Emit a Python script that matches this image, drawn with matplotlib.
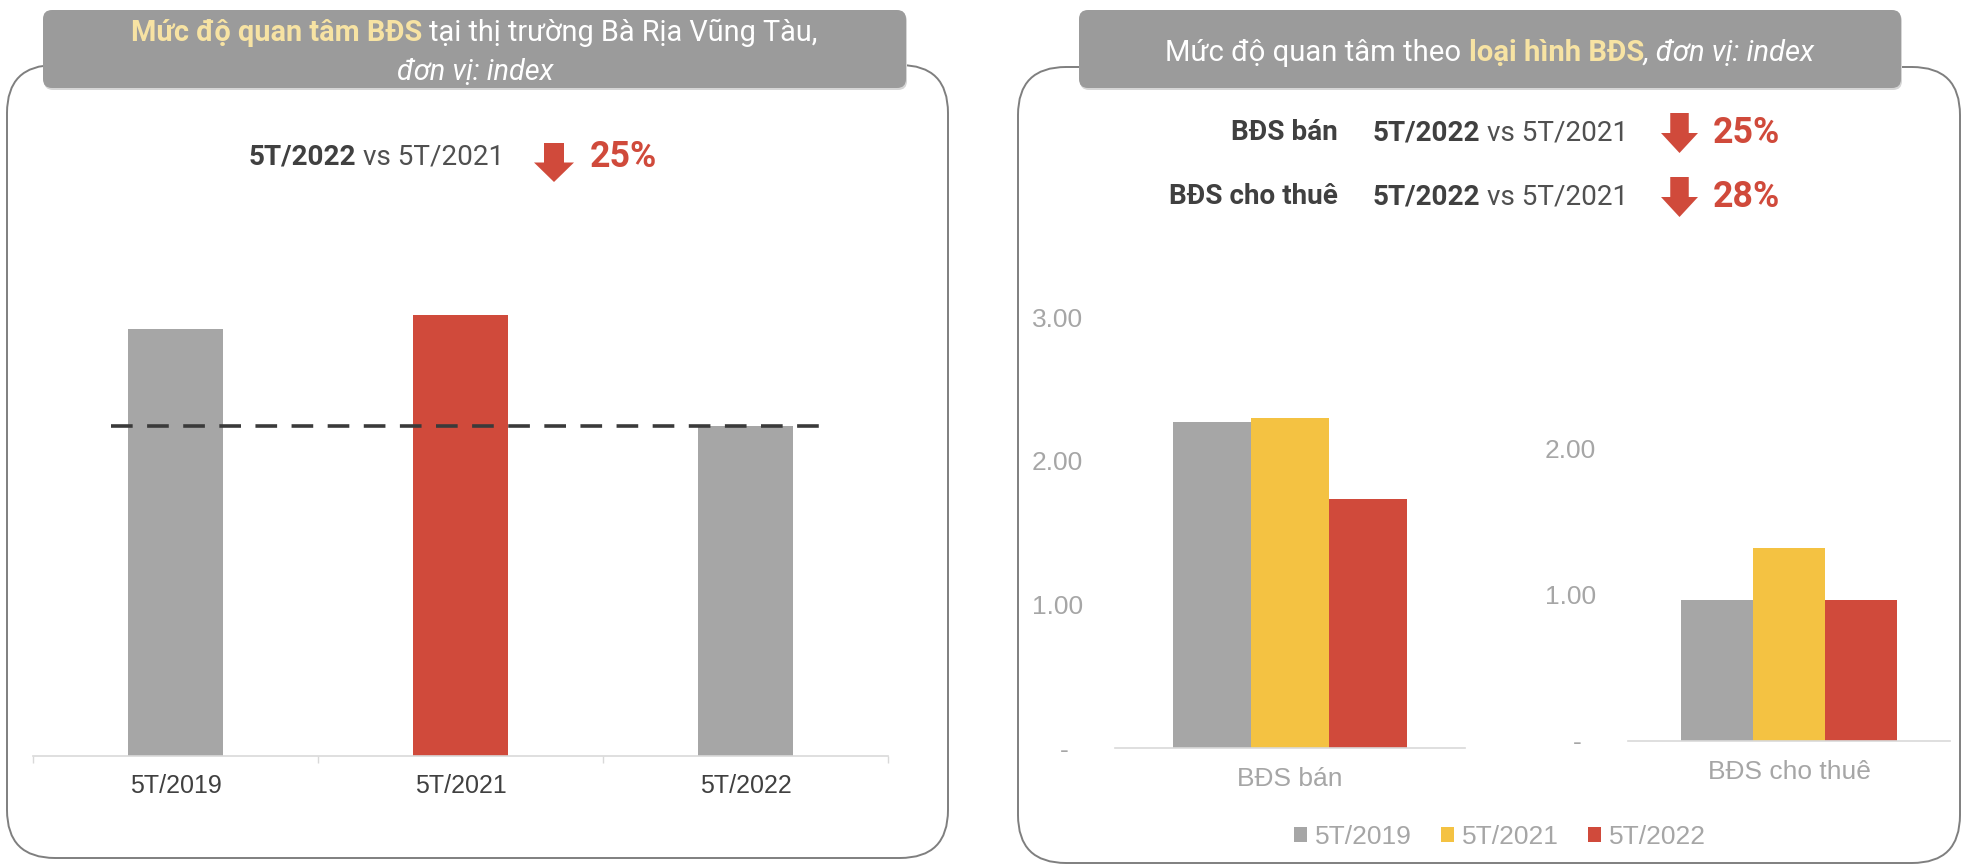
import matplotlib
matplotlib.use("Agg")
import matplotlib.pyplot as plt
from matplotlib.patches import FancyBboxPatch, Polygon, Patch

# ---------- Data ----------
cats_left = ['5T/2019', '5T/2021', '5T/2022']
interest_left = [2.97, 3.07, 2.30]

cats_right = ['BĐS bán', 'BĐS cho thuê']
periods = ['5T/2019', '5T/2021', '5T/2022']
ban = [2.27, 2.30, 1.73]
thue = [0.96, 1.32, 0.96]

# ---------- Style ----------
GRAY = '#a6a6a6'
RED = '#d04a3b'
YELLOW = '#f4c242'
HEAD = '#9b9b9b'
PALE = '#f7e3a3'
DARK = '#404040'
AXIS_TXT = '#a6a6a6'
NARROW = ['Liberation Sans Narrow', 'Roboto']
SANS = ['Liberation Sans', 'DejaVu Sans']

W, H = 1964, 866
fig = plt.figure(figsize=(W / 100, H / 100), dpi=100)
fig.patch.set_facecolor('white')

# pixel-space background layer (y grows downward)
bg = fig.add_axes([0, 0, 1, 1], zorder=0)
bg.set_xlim(0, W)
bg.set_ylim(H, 0)
bg.axis('off')


def fax(x0, y0, x1, y1):
    ax = fig.add_axes([x0 / W, 1 - y1 / H, (x1 - x0) / W, (y1 - y0) / H], zorder=2)
    ax.set_facecolor('none')
    for s in ['top', 'right', 'left']:
        ax.spines[s].set_visible(False)
    ax.spines['bottom'].set_color('#d9d9d9')
    ax.spines['bottom'].set_linewidth(1.2)
    return ax


def panel(x0, y0, x1, y1, hx0, hx1):
    bg.add_patch(FancyBboxPatch((x0, y0), x1 - x0, y1 - y0,
                                boxstyle='round,pad=0,rounding_size=48',
                                fc='white', ec='#7f7f7f', lw=1.4, zorder=1))
    bg.add_patch(FancyBboxPatch((hx0 + 1, 12), hx1 - hx0, 78,
                                boxstyle='round,pad=0,rounding_size=9',
                                fc='#d6d6d6', ec='none', zorder=2))
    bg.add_patch(FancyBboxPatch((hx0, 10), hx1 - hx0, 78,
                                boxstyle='round,pad=0,rounding_size=9',
                                fc=HEAD, ec='none', zorder=3))


def measure(parts, size):
    r = fig.canvas.get_renderer()
    ws = []
    for text, color, weight, style, gap in parts:
        t = bg.text(0, 0, text, fontsize=size, fontweight=weight,
                    fontstyle=style, family=NARROW)
        ws.append(t.get_window_extent(renderer=r).width)
        t.remove()
    em = size * 100 / 72
    gaps = [p[4] * em for p in parts]
    return ws, gaps


def runs(parts, x, y, size=None, width=None, anchor='left'):
    if width is not None:
        ws, gaps = measure(parts, 20)
        size = 20 * width / (sum(ws) + sum(gaps[:-1]))
    ws, gaps = measure(parts, size)
    total = sum(ws) + sum(gaps[:-1])
    if anchor == 'center':
        x -= total / 2
    elif anchor == 'right':
        x -= total
    for (text, color, weight, style, gap), w, g in zip(parts, ws, gaps):
        bg.text(x, y, text, ha='left', va='center', fontsize=size, color=color,
                fontweight=weight, fontstyle=style, family=NARROW, zorder=5)
        x += w + g
    return size


def down_arrow(x0, x1, y0, y1):
    w, h = x1 - x0, y1 - y0
    xc, ym = (x0 + x1) / 2, y0 + 0.5 * h
    pts = [(x0 + 0.25 * w, y0), (x0 + 0.75 * w, y0), (x0 + 0.75 * w, ym),
           (x1, ym), (xc, y1), (x0, ym), (x0 + 0.25 * w, ym)]
    bg.add_patch(Polygon(pts, closed=True, fc=RED, ec='none', zorder=5))


# ---------- Panels ----------
panel(7, 65, 948, 858, 43, 906)
panel(1018, 67, 1960, 863, 1079, 1901)

# headers
hs = runs([('Mức độ quan tâm BĐS', PALE, 'bold', 'normal', 0.25),
           ('tại thị trường Bà Rịa Vũng Tàu,', 'white', 'normal', 'normal', 0)],
          474, 33, width=687, anchor='center')
runs([('đơn vị: index', 'white', 'normal', 'italic', 0)], 475, 72, size=hs, anchor='center')

runs([('Mức độ quan tâm theo', 'white', 'normal', 'normal', 0.25),
      ('loại hình BĐS', PALE, 'bold', 'normal', 0),
      (', đơn vị: index', 'white', 'normal', 'italic', 0)],
     1490, 53, width=649, anchor='center')

# change annotations
cmp_parts = [('5T/2022', DARK, 'bold', 'normal', 0.22),
             ('vs 5T/2021', '#505050', 'normal', 'normal', 0)]
asz = runs(cmp_parts, 249, 157, width=255)
down_arrow(534, 574, 143, 182)
psz = runs([('25%', RED, 'bold', 'normal', 0)], 590, 157, width=67)

for label, pct, y in [('BĐS bán', '25%', 133), ('BĐS cho thuê', '28%', 197)]:
    runs([(label, DARK, 'bold', 'normal', 0)], 1338, y, size=asz, anchor='right')
    runs(cmp_parts, 1373, y, size=asz)
    down_arrow(1661, 1698, y - 20, y + 20)
    runs([(pct, RED, 'bold', 'normal', 0)], 1713, y, size=psz)

# ---------- Left chart ----------
axL = fax(33, 282, 888, 756)
xl = range(len(cats_left))
axL.bar(xl, interest_left, width=0.33, color=[GRAY, RED, GRAY], zorder=2)
axL.hlines(interest_left[2], -0.225, 2.29, colors='#3a3a3a', lw=2.6,
           linestyles=(0, (6, 4)), zorder=3)
axL.set_xlim(-0.5, 2.5)
axL.set_ylim(0, 3.3)
axL.set_yticks([])
axL.set_xticks(list(xl), cats_left)
axL.set_xticks([-0.5, 0.5, 1.5, 2.5], minor=True)
axL.tick_params(axis='x', which='major', length=0, pad=13, labelsize=18,
                labelcolor=DARK)
axL.tick_params(axis='x', which='minor', length=5, width=1.0, color='#d9d9d9')
for t in axL.get_xticklabels():
    t.set_family(SANS)

# ---------- Right charts ----------
offsets = [-0.223, 0.0, 0.223]
colors_r = [GRAY, YELLOW, RED]


def group(ax, vals, cat, ymax):
    for off, v, c in zip(offsets, vals, colors_r):
        ax.bar(off, v, width=0.223, color=c, zorder=2)
    ax.set_xlim(-0.5, 0.5)
    ax.set_ylim(0, ymax)
    ticks = list(range(int(ymax) + 1))
    ax.set_yticks(ticks, ['-  ' if t == 0 else f'{t:.2f}' for t in ticks])
    ax.set_xticks([0], [cat])
    ax.tick_params(axis='y', length=0, pad=23, labelsize=19, labelcolor=AXIS_TXT)
    ax.tick_params(axis='x', length=0, pad=14, labelsize=19, labelcolor=AXIS_TXT)
    for t in ax.get_xticklabels() + ax.get_yticklabels():
        t.set_family(SANS)


axR1 = fax(1115, 317, 1465, 748)
group(axR1, ban, cats_right[0], 3)
axR2 = fax(1628, 448, 1950, 741)
group(axR2, thue, cats_right[1], 2)

handles = [Patch(fc=c, ec='none', label=p) for c, p in zip(colors_r, periods)]
leg = fig.legend(handles=handles, loc='center', bbox_to_anchor=(1500 / W, 1 - 837 / H),
                 ncol=3, frameon=False, fontsize=19, handlelength=0.5,
                 handleheight=0.5, handletextpad=0.3, columnspacing=1.1,
                 labelcolor=AXIS_TXT, prop={'family': SANS, 'size': 19})

fig.savefig('out.png', dpi=100, facecolor='white')
